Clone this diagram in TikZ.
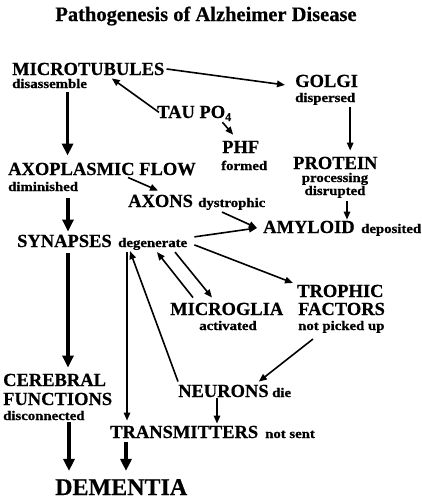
\documentclass[tikz,border=0pt]{standalone}
\usepackage{fontspec}
\setmainfont{Liberation Serif}[BoldFeatures={FakeBold=0.5}]
\newfontfamily\smallfont{Liberation Serif}[FakeStretch=1.12, BoldFeatures={FakeBold=0.9}]
\usetikzlibrary{arrows.meta}
\begin{document}
\begin{tikzpicture}[x=1pt,y=-1pt,
  big/.style={font=\fontsize{18.5}{20}\selectfont\bfseries, inner sep=0pt, anchor=base west},
  small/.style={font=\smallfont\fontsize{13.2}{14}\selectfont\bfseries, inner sep=0pt, anchor=base west},
  ar/.style={-{Triangle[length=8pt,width=6.5pt]}, line width=1.6pt},
  thk/.style={-{Triangle[length=12pt,width=11pt]}, line width=3.5pt},
  ttl/.style={font=\fontsize{20.5}{22}\selectfont\bfseries, inner sep=0pt, anchor=base}]
\useasboundingbox (0,0) rectangle (422,499);
% title
\node[ttl] (title) at (206,21) {Pathogenesis of Alzheimer Disease};
% nodes
\node[big] (mt) at (12,75) {MICROTUBULES};
\node[small] (dis) at (12,88) {disassemble};
\node[big] (golgi) at (295,87) {GOLGI};
\node[small] (disp) at (295,102) {dispersed};
\node[big] (tau) at (157,118) {TAU PO{\fontsize{12}{12}\selectfont\raisebox{-3pt}{4}}};
\node[big] (phf) at (222,153) {PHF};
\node[small] (formed) at (221,170) {formed};
\node[big] (prot) at (293,169) {PROTEIN};
\node[small, anchor=base] (proc) at (335,182) {processing};
\node[small, anchor=base] (disr) at (335,195) {disrupted};
\node[big] (axo) at (8,175) {AXOPLASMIC FLOW};
\node[small] (dimin) at (8,191) {diminished};
\node[big] (axons) at (128,207) {AXONS};
\node[small] (dys) at (198,207) {dystrophic};
\node[big] (amy) at (263,233) {AMYLOID};
\node[small] (depo) at (361,233) {deposited};
\node[big] (syn) at (17,247) {SYNAPSES};
\node[small] (deg) at (118,247) {degenerate};
\node[big] (micro) at (170,315) {MICROGLIA};
\node[small, anchor=base] (act) at (228,330) {activated};
\node[big] (troph) at (297,297) {TROPHIC};
\node[big] (fact) at (298,315) {FACTORS};
\node[small] (npu) at (298,330) {not picked up};
\node[big] (cer) at (3,386) {CEREBRAL};
\node[big] (func) at (3,405) {FUNCTIONS};
\node[small] (disc) at (3,420) {disconnected};
\node[big] (neur) at (178,397) {NEURONS};
\node[small] (die) at (272,397) {die};
\node[big] (trans) at (110,438) {TRANSMITTERS};
\node[small] (nsent) at (265,438) {not sent};
\node[font=\fontsize{24}{26}\selectfont\bfseries, inner sep=0pt, anchor=base west] (dem) at (55,495) {DEMENTIA};
% connectors
\draw[ar] ([xshift=2pt]mt.east) -- ([xshift=-10pt,yshift=-4pt]golgi.west);
\draw[ar] ([xshift=2pt,yshift=1pt]tau.west) -- ([xshift=23.5pt,yshift=-3pt]mt.south);
\draw[ar] ([xshift=-9pt,yshift=-1pt]tau.south east) -- ([xshift=-7.5pt,yshift=6pt]phf.north);
\draw[thk] ([xshift=18pt,yshift=-4pt]dis.south) coordinate (s1) -- ([yshift=7pt]s1 |- axo.north);
\draw[ar] ([xshift=25pt,yshift=-2pt]disp.south) coordinate (s2) -- ([yshift=6pt]s2 |- prot.north);
\draw[ar] ([xshift=120pt,yshift=-2pt]axo.south west) -- ([xshift=30pt,yshift=4pt]axons.north west);
\draw[thk] ([xshift=60pt,yshift=-7pt]dimin.south west) coordinate (s3) -- ([yshift=3pt]s3 |- syn.north);
\draw[ar] ([xshift=12pt,yshift=-3pt]disr.south) coordinate (s4) -- ([yshift=1pt]s4 |- amy.north);
\draw[ar] ([xshift=24pt,yshift=-2pt]dys.south west) -- ([xshift=-6pt,yshift=-1pt]amy.west);
\draw[ar] ([xshift=7pt,yshift=7pt]deg.east) -- ([xshift=-6pt,yshift=-1pt]amy.west);
\draw[ar] ([xshift=7pt,yshift=-1pt]deg.east) -- ([xshift=-4pt,yshift=8pt]troph.west);
\draw[ar] ([xshift=23pt,yshift=5pt]micro.north west) -- ([xshift=39pt,yshift=-2pt]deg.south west);
\draw[ar] ([xshift=57pt,yshift=-2pt]deg.south west) -- ([xshift=42pt,yshift=5pt]micro.north west);
\draw[ar] ([yshift=3pt]neur.north west) -- ([xshift=12pt,yshift=-1pt]deg.south west);
\draw[ar] ([xshift=9pt,yshift=-2pt]deg.south west) coordinate (s5) -- ([yshift=5pt]s5 |- trans.north);
\draw[thk] ([xshift=51pt,yshift=-6pt]syn.south west) coordinate (s6) -- ([yshift=6pt]s6 |- cer.north);
\draw[ar] ([xshift=15pt,yshift=-6pt]npu.south west) -- ([xshift=-10pt,yshift=3pt]neur.north east);
\draw[ar] ([xshift=39pt,yshift=-1pt]neur.south west) coordinate (s7) -- ([yshift=2pt]s7 |- trans.north);
\draw[thk] ([xshift=66pt,yshift=-2pt]disc.south west) coordinate (s8) -- ([yshift=8pt]s8 |- dem.north);
\draw[thk] ([xshift=16pt,yshift=-4pt]trans.south west) coordinate (s9) -- ([yshift=8pt]s9 |- dem.north);
\end{tikzpicture}
\end{document}
